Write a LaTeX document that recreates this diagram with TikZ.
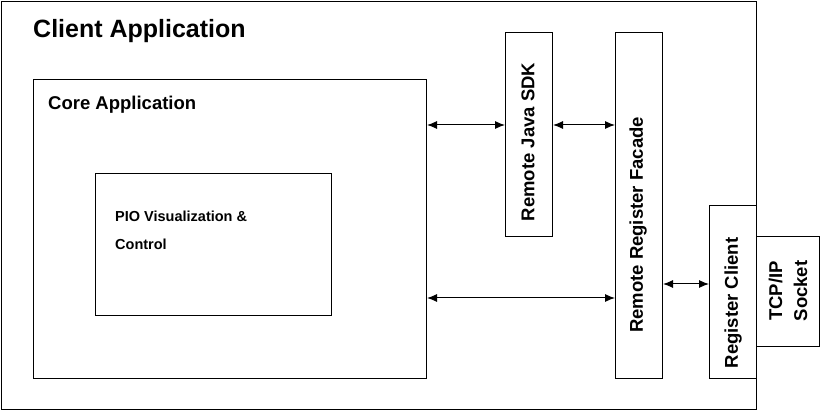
\documentclass[tikz,border=0pt]{standalone}
\usepackage{fontspec}
\setmainfont{Liberation Sans}
\usetikzlibrary{arrows.meta}
\begin{document}
\begin{tikzpicture}[x=1pt,y=-1pt,
  box/.style={draw,line width=1pt,inner sep=0pt,anchor=north west},
  big/.style={font=\fontsize{25}{28}\selectfont\bfseries},
  mid/.style={font=\fontsize{18.5}{25}\selectfont\bfseries},
  small/.style={font=\fontsize{14.5}{28}\selectfont\bfseries},
  link/.style={line width=1pt,{Latex[length=10pt,width=8pt]}-{Latex[length=10pt,width=8pt]}}]
\useasboundingbox (0,0) rectangle (821,411);
\node[box,minimum width=755pt,minimum height=408pt] (outer) at (1,1) {};
\node[box,minimum width=393pt,minimum height=299pt] (core) at (33,79) {};
\node[box,minimum width=236pt,minimum height=142pt] (pio) at (95,173) {};
\node[box,minimum width=47pt,minimum height=204pt] (sdk) at (505,32) {};
\node[box,minimum width=47pt,minimum height=346pt] (facade) at (615,32) {};
\node[box,minimum width=47pt,minimum height=173pt] (regc) at (709,205) {};
\node[box,minimum width=63pt,minimum height=110pt] (tcp) at (756,236) {};
% labels
\node[big,anchor=base west,inner sep=0pt] (tclient) at (33,38) {Client Application};
\node[mid,anchor=base west,inner sep=0pt] (tcore) at (48,110) {Core Application};
\node[small,anchor=base west,inner sep=0pt] (tpio1) at (115,222) {PIO Visualization \&};
\node[small,anchor=base west,inner sep=0pt] (tpio2) at (115,250) {Control};
\node[mid,rotate=90,inner sep=0pt] (tsdk) at (528,142) {Remote Java SDK};
\node[mid,rotate=90,inner sep=0pt] (tfac) at (638,225) {Remote Register Facade};
\node[mid,rotate=90,inner sep=0pt] (treg) at (733,303) {Register Client};
\node[mid,rotate=90,inner sep=0pt,align=center] (ttcp) at (788,291) {TCP/IP\\Socket};
% connectors
\draw[link] (core.east |- 0,125) -- (sdk.west |- 0,125);
\draw[link] (sdk.east |- 0,125) -- (facade.west |- 0,125);
\draw[link] (core.east |- 0,298) -- (facade.west |- 0,298);
\draw[link] (facade.east |- 0,284) -- (regc.west |- 0,284);
\end{tikzpicture}
\end{document}
